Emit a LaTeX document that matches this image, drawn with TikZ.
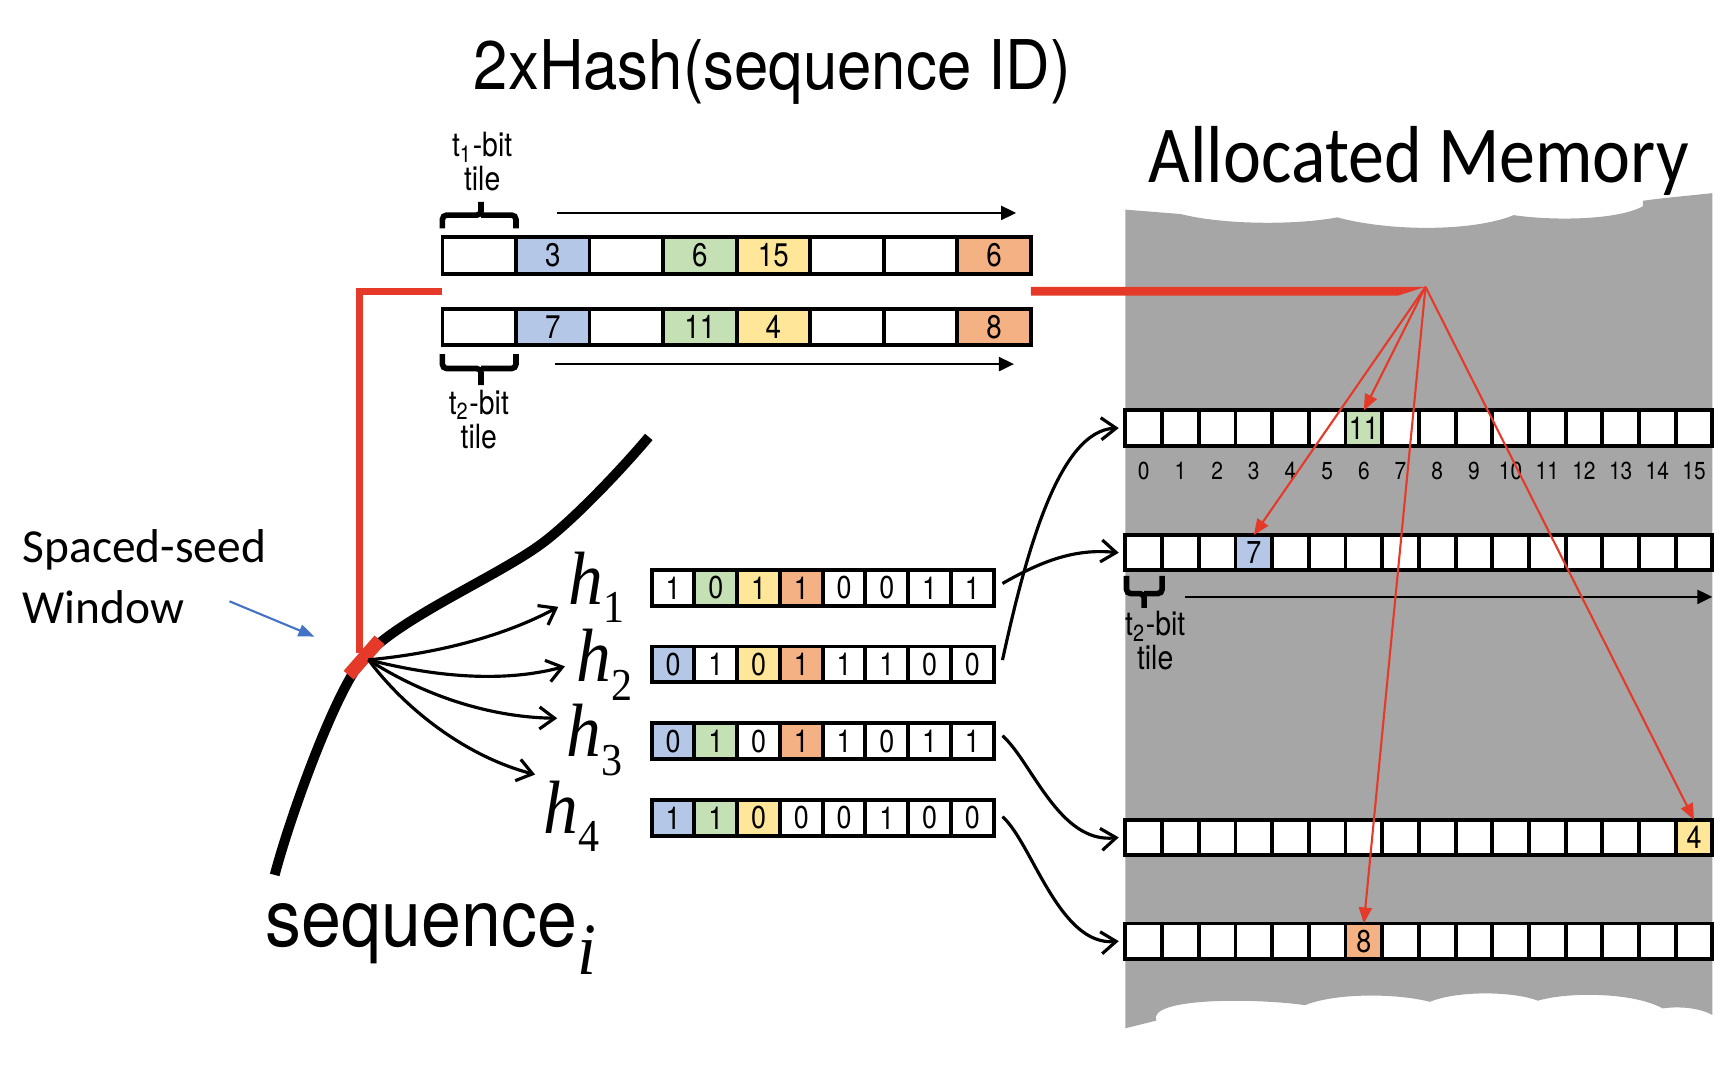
\documentclass[tikz,border=0pt]{standalone}
\usepackage{fontspec}
\setmainfont{TeX Gyre Heros}
\newfontfamily\condfont[FakeStretch=0.9]{TeX Gyre Heros}
\newfontfamily\narrowfont[FakeStretch=0.85]{TeX Gyre Heros}
\newfontfamily\calfont{Carlito}
\newfontfamily\calcond[FakeStretch=0.89]{Carlito}
\newfontfamily\serifit[FakeStretch=0.92]{Liberation Serif}
\usetikzlibrary{arrows.meta,positioning,calc}
\definecolor{tileblue}{HTML}{B4C7E7}
\definecolor{tilegreen}{HTML}{C5E0B4}
\definecolor{tileyellow}{HTML}{FFE699}
\definecolor{tileorange}{HTML}{F4B183}
\definecolor{hashred}{HTML}{E53A2A}
\definecolor{memgray}{HTML}{A6A6A6}
\definecolor{seedblue}{HTML}{4472C4}

\begin{document}
\begin{tikzpicture}[
    x=0.11033mm,y=-0.11033mm,
    cell/.style      = {draw, line width=1.1pt, inner sep=0pt, outer sep=0pt,
                        anchor=north west},
    hashcell/.style  = {cell, minimum width=7.351mm, minimum height=3.641mm,
                        font=\narrowfont\fontsize{9.3}{9.3}\selectfont},
    bitcell/.style   = {cell, minimum width=4.275mm, minimum height=3.586mm,
                        font=\narrowfont\fontsize{9}{9}\selectfont},
    memcell/.style   = {cell, fill=white, minimum width=3.668mm, minimum height=3.53mm,
                        font=\narrowfont\fontsize{9}{9}\selectfont},
    idx/.style       = {inner sep=0pt, font=\narrowfont\fontsize{7}{7}\selectfont},
    tilelbl/.style   = {align=center, inner sep=0pt,
                        font=\narrowfont\fontsize{9.5}{9.7}\selectfont},
    tilebrace/.style = {line width=1.6pt, rounded corners=1.2pt},
    flowarrow/.style = {line width=0.6pt, -{Triangle[length=1.5mm,width=1.4mm]}},
    redbar/.style    = {hashred, line width=2pt},
    redarrow/.style  = {hashred, line width=0.6pt, -{Triangle[length=1.6mm,width=1.3mm]}},
    seqline/.style   = {line width=2.8pt},
    hasharrow/.style = {line width=0.9pt, -{Straight Barb[length=1.5mm,width=2.2mm]}},
    hlbl/.style      = {anchor=base west, inner sep=0pt,
                        font=\serifit\itshape\fontsize{21.5}{21.5}\selectfont},
  ]
  \useasboundingbox (0,0) rectangle (1568,975);

  % -- memory block --------------------------------------------------------
  \fill[memgray] (1020,190) -- (1070,194)
    .. controls (1110,204) and (1175,204) .. (1212,197)
    .. controls (1260,210) and (1335,210) .. (1372,195)
    .. controls (1405,200) and (1465,200) .. (1489,187)
    -- (1489,182) .. controls (1510,179) and (1535,177) .. (1552,175)
    -- (1552,920)
    .. controls (1540,913) and (1520,912) .. (1507,914)
    .. controls (1480,899) and (1420,899) .. (1394,907)
    .. controls (1370,898) and (1320,898) .. (1296,908)
    .. controls (1265,900) and (1210,900) .. (1183,911)
    .. controls (1130,904) and (1040,905) .. (1048,925)
    -- (1020,932) -- cycle;

  % -- titles --------------------------------------------------------------
  \node[anchor=base, inner sep=0pt, font=\condfont\fontsize{19.5}{19.5}\selectfont]
       (title) at (700,81) {2xHash(sequence ID)};
  \node[anchor=base, inner sep=0pt, font=\calcond\fontsize{23}{23}\selectfont]
       (memtitle) at (1286,165) {Allocated Memory};

  % -- hash tiles ----------------------------------------------------------
  \foreach \c/\v [count=\i from 0] in {white/{},tileblue/3,white/{},tilegreen/6,
                                       tileyellow/15,white/{},white/{},tileorange/6}
    \node[hashcell, fill=\c] (ta-\i) at ({401+66.66*\i},215) {\v};
  \foreach \c/\v [count=\i from 0] in {white/{},tileblue/7,white/{},tilegreen/11,
                                       tileyellow/4,white/{},white/{},tileorange/8}
    \node[hashcell, fill=\c] (tb-\i) at ({401+66.66*\i},280) {\v};

  \draw[tilebrace] (ta-0.north west) ++(0,-8) |- (436,195) -- (436,183);
  \draw[tilebrace] (ta-0.north east) ++(0,-8) |- (436,195);
  \node[tilelbl] (t1lbl) at (437,146.5) {t\textsubscript{1}-bit\\tile};
  \draw[tilebrace] (tb-0.south west) ++(0,8) |- (436,334) -- (436,349);
  \draw[tilebrace] (tb-0.south east) ++(0,8) |- (436,334);
  \node[tilelbl] (t2lbl) at (434,380) {t\textsubscript{2}-bit\\tile};

  \coordinate (topA) at (505,193);
  \coordinate (topB) at (921,193);
  \draw[flowarrow] (topA) -- (topB);
  \coordinate (botA) at (503,330);
  \coordinate (botB) at (919,330);
  \draw[flowarrow] (botA) -- (botB);

  % -- memory rows ---------------------------------------------------------
  \foreach \r/\y in {1/372,2/485,3/743,4/837}
    \foreach \i in {0,...,15}
      \node[memcell] (m\r-\i) at ({1020+33.25*\i},\y) {};
  \foreach \r/\y/\k/\c/\v in {1/372/6/tilegreen/11,2/485/3/tileblue/7,
                              3/743/15/tileyellow/4,4/837/6/tileorange/8}
    \node[memcell, fill=\c] (m\r-\k) at ({1020+33.25*\k},\y) {\v};
  \foreach \i in {0,...,15}
    \node[idx] (ix-\i) at ({1020+33.25*(\i+0.5)},427) {\i};

  \draw[tilebrace] (m2-0.south west) ++(1,5) |- (1037,538) -- (1037,551);
  \draw[tilebrace] (m2-0.south east) ++(0,5) |- (1037,538);
  \node[tilelbl] (t2mem) at (1047,580.5) {t\textsubscript{2}-bit\\tile};
  \coordinate (memA) at (1074,541);
  \coordinate (memB) at (1552,541);
  \draw[flowarrow] (memA) -- (memB);

  % -- red hash lines ------------------------------------------------------
  \coordinate (hashL) at ($(ta-0.south west)!0.5!(tb-0.north west)$);
  \coordinate (hashR) at ($(ta-7.south east)!0.5!(tb-7.north east)$);
  \coordinate (apex) at (1292,260);
  \coordinate (winTop) at (326,592);
  \fill[hashred] ($(hashR)+(0,-4)$) -- (apex) -- ($(apex)+(-25,8)$)
       -- ($(hashR)+(0,4)$) -- cycle;
  \foreach \t in {m1-6,m2-3,m3-15,m4-6}
    \draw[redarrow] (apex) -- (\t.north);

  % -- sequence ------------------------------------------------------------
  \coordinate (win) at (330,596);
  \draw[seqline] (249,793) .. controls (262,743) and (304,625) .. (win)
       .. controls (362,560) and (452,522) .. (492,492)
       .. controls (522,469.5) and (568,420) .. (588,396);
  \draw[redbar] (hashL) -| (winTop);
  \draw[hashred, line width=3.8pt] ($(win)+(-14,16)$) -- ($(win)+(14,-16)$);
  \node[anchor=base west, inner sep=0pt, font=\condfont\fontsize{22.7}{22.7}\selectfont]
       (seq) at (240,858)
       {sequence\raisebox{-7.8pt}{\serifit\itshape\fontsize{21}{21}\selectfont i}};

  \node[anchor=base west, inner sep=0pt, align=left,
        font=\calfont\fontsize{13.5}{17.3}\selectfont] (seed) at (20,565)
       {Spaced-seed\\Window};
  \coordinate (seedtail) at (208,545);
  \coordinate (seedhead) at (285,577);
  \draw[seedblue, line width=0.6pt, -{Triangle[length=1.6mm,width=1.2mm]}]
       (seedtail) -- (seedhead);

  % -- hash functions ------------------------------------------------------
  \node[hlbl] (h1) at (515,548) {h\raisebox{-5.2pt}{\upshape\fontsize{13}{13}\selectfont 1}};
  \node[hlbl] (h2) at (522,618) {h\raisebox{-5.2pt}{\upshape\fontsize{13}{13}\selectfont 2}};
  \node[hlbl] (h3) at (513,686) {h\raisebox{-5.2pt}{\upshape\fontsize{13}{13}\selectfont 3}};
  \node[hlbl] (h4) at (492,755) {h\raisebox{-5.2pt}{\upshape\fontsize{13}{13}\selectfont 4}};

  \coordinate (wtip) at (334,598);
  \draw[hasharrow] (wtip) .. controls (400,592) and (460,575) .. ($(h1.base west)+(-9,2)$);
  \draw[hasharrow] (wtip) .. controls (400,615) and (460,618) .. ($(h2.base west)+(-10,-14)$);
  \draw[hasharrow] (wtip) .. controls (380,628) and (440,650) .. ($(h3.base west)+(-8,-35)$);
  \draw[hasharrow] (wtip) .. controls (365,640) and (420,685) .. ($(h4.base west)+(-7,-53)$);

  % -- bit vectors ---------------------------------------------------------
  \foreach \c/\v [count=\i from 0] in {white/1,tilegreen/0,tileyellow/1,tileorange/1,
                                       white/0,white/0,white/1,white/1}
    \node[bitcell, fill=\c] (b1-\i) at ({590.6+38.75*\i},516.6) {\v};
  \foreach \c/\v [count=\i from 0] in {tileblue/0,white/1,tileyellow/0,tileorange/1,
                                       white/1,white/1,white/0,white/0}
    \node[bitcell, fill=\c] (b2-\i) at ({590.6+38.75*\i},586) {\v};
  \foreach \c/\v [count=\i from 0] in {tileblue/0,tilegreen/1,white/0,tileorange/1,
                                       white/1,white/0,white/1,white/1}
    \node[bitcell, fill=\c] (b3-\i) at ({590.6+38.75*\i},655.6) {\v};
  \foreach \c/\v [count=\i from 0] in {tileblue/1,tilegreen/1,tileyellow/0,white/0,
                                       white/0,white/1,white/0,white/0}
    \node[bitcell, fill=\c] (b4-\i) at ({590.6+38.75*\i},725) {\v};

  \draw[hasharrow] ($(b1-7.east)+(8,-4)$) .. controls (945,508) and (975,497)
       .. ($(m2-0.west)+(-6,0)$);
  \draw[hasharrow] ($(b2-7.east)+(8,-4)$) .. controls (930,500) and (960,390)
       .. ($(m1-0.west)+(-6,0)$);
  \draw[hasharrow] ($(b3-7.east)+(8,-5)$) .. controls (935,690) and (960,765)
       .. ($(m3-0.west)+(-6,0)$);
  \draw[hasharrow] ($(b4-7.east)+(8,-1)$) .. controls (935,763) and (960,858)
       .. ($(m4-0.west)+(-6,0)$);

\end{tikzpicture}
\end{document}
